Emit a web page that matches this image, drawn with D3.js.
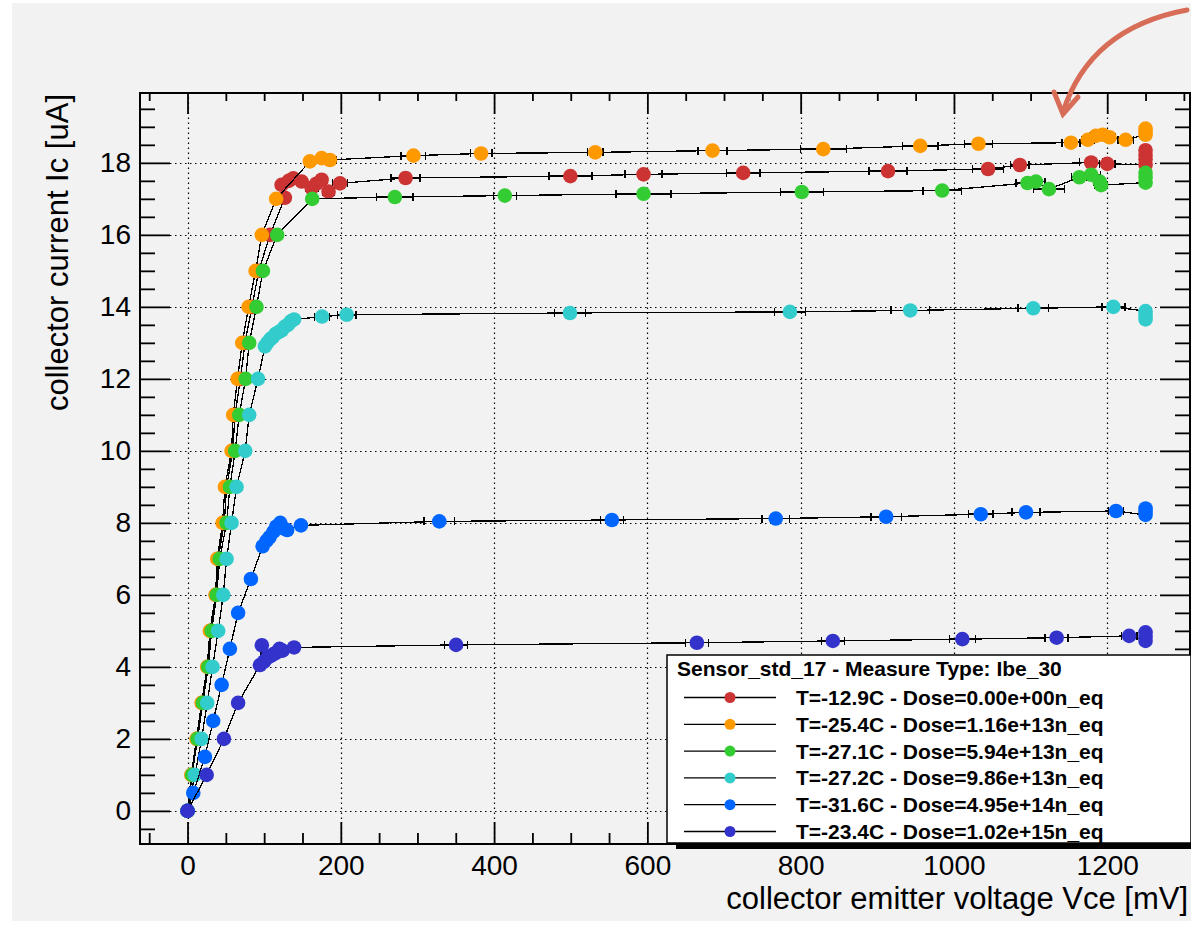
<!DOCTYPE html>
<html><head><meta charset="utf-8">
<script src="https://cdn.jsdelivr.net/npm/d3@7"></script>
<style>body{margin:0;background:#fff}svg{display:block}</style>
</head><body>
<svg id="chart" width="1191" height="933"></svg>
<script>
// ---------- data ----------
const xMajorTicks = [0,200,400,600,800,1000,1200];
const yMajorTicks = [0,2,4,6,8,10,12,14,16,18];
const xTitle = "collector emitter voltage Vce [mV]";
const yTitle = "collector current Ic [uA]";
const legendTitle = "Sensor_std_17 - Measure Type: Ibe_30";
const seriesLabels = [
  "T=-12.9C - Dose=0.00e+00n_eq",
  "T=-25.4C - Dose=1.16e+13n_eq",
  "T=-27.1C - Dose=5.94e+13n_eq",
  "T=-27.2C - Dose=9.86e+13n_eq",
  "T=-31.6C - Dose=4.95e+14n_eq",
  "T=-23.4C - Dose=1.02e+15n_eq"
];
const seriesColors = ["#cc3333","#ff9900","#33cc33","#33cccc","#0066ff","#3333cc"];

const redX  = [0,5.5,12.5,19,26.5,30,37,40,48,51,59,62,69,75,84,93,107.6,127,122.7,132,138,149,162,168,175,184,199,284.5,499.5,595,725,914,1044.5,1086,1179,1200,1250,1250,1250,1250];
const redY  = [0,1,2,3,4,5,6,7,8,9,10,11,12,13,14,15,16,17.03,17.39,17.5,17.57,17.48,17.3,17.42,17.53,17.2,17.43,17.58,17.63,17.68,17.72,17.77,17.83,17.94,18.01,17.97,17.95,18.1,18.22,18.35];
const redEx = [0,0,0,0,0,0,0,0,0,0,0,0,0,0,0,0,0,0,4,5,5,6,8,6,7,8,10,19,28,24,22,25,20,12,15,10,0,0,0,0];

const orangeX  = [0,5,11.8,18.4,25.7,29.2,36.6,38.8,45.8,48.8,57.5,59.6,65.3,71.4,79.7,88.8,97,115.6,159.7,175,185.8,294.8,383,532,685,829.5,956,1032,1152.7,1174.6,1185,1194,1203,1224,1250,1250,1250];
const orangeY  = [0,1,2,3,4,5,6,7,8,9,10,11,12,13,14,15,16,17,18.04,18.13,18.08,18.2,18.26,18.29,18.34,18.38,18.47,18.53,18.56,18.64,18.75,18.78,18.71,18.64,18.78,18.88,18.95];
const orangeEx = [0,0,0,0,0,0,0,0,0,0,0,0,0,0,0,0,0,0,5,6,8,16,14,10,19,30,23,18,12,8,8,8,8,10,0,0,0];

const greenX  = [0,6,13,20,27,31.5,38,42,51,55.3,62.2,67.5,75.8,80.5,90,98.4,117,162.7,270.5,414,595,801.5,984.7,1096,1107,1124,1163.7,1179,1190,1192,1250,1250,1250];
const greenY  = [0,1,2,3,4,5,6,7,8,9,10,11,12,13,14,15,16,17,17.05,17.09,17.14,17.19,17.23,17.44,17.48,17.27,17.6,17.67,17.48,17.38,17.45,17.6,17.72];
const greenEx = [0,0,0,0,0,0,0,0,0,0,0,0,0,0,0,0,0,0,24,15,36,28,25,15,12,20,10,12,8,8,0,0,0];

const cyanX  = [0,9.7,18.4,25.7,32.7,40,46.6,51,57.5,64,75.3,80.5,92,101,104,108,111,115,119,123,127,131,135,139,175.5,207.6,499,786,943,1103.5,1208,1250,1250,1250];
const cyanY  = [0,1,2,3,4,5,6,7,8,9,10,11,12,12.9,13.0,13.1,13.15,13.25,13.3,13.35,13.45,13.5,13.6,13.65,13.73,13.78,13.83,13.86,13.9,13.96,14.0,13.88,13.76,13.65];
const cyanEx = [0,0,0,0,0,0,0,0,0,0,0,0,0,3,3,3,3,3,3,3,3,3,3,3,10,12,20,20,25,20,15,0,0,0];

const blueX  = [0,7.5,22.7,33.5,44.5,55.3,66,82.7,98,103,107,112,116,121,125,130,148,328.5,553.7,767.5,911.5,1035,1094,1211.5,1250,1250,1250];
const blueY  = [0,0.5,1.5,2.5,3.5,4.5,5.5,6.44,7.35,7.5,7.6,7.75,7.9,8.0,7.85,7.8,7.93,8.04,8.08,8.12,8.17,8.24,8.29,8.33,8.22,8.31,8.4];
const blueEx = [0,0,0,0,0,0,0,0,3,3,3,3,3,3,3,3,5,20,15,18,20,16,18,10,0,0,0];

const navyX  = [0,25,47.5,66,94.5,97,100,104,108,112,116,120,124,139,350.4,664.6,842,1011,1134,1228.6,1250,1250,1250];
const navyY  = [0,1,2,3,4.05,4.6,4.15,4.25,4.3,4.35,4.4,4.5,4.45,4.54,4.61,4.67,4.72,4.77,4.81,4.86,4.72,4.84,4.96];
const navyEx = [0,0,0,0,3,3,3,3,3,3,3,3,3,5,15,15,15,17,15,10,0,0,0];

const seriesX  = [redX, orangeX, greenX, cyanX, blueX, navyX];
const seriesY  = [redY, orangeY, greenY, cyanY, blueY, navyY];
const seriesEx = [redEx, orangeEx, greenEx, cyanEx, blueEx, navyEx];

// ---------- layout ----------
const svg = d3.select("#chart");
const F = {l:140, t:93, r:1190, b:844};
const font = "'Liberation Sans', Arial, Helvetica, sans-serif";

svg.append("rect").attr("x",12).attr("y",3).attr("width",1179).attr("height",918).attr("fill","#f2f2f2");

const x = d3.scaleLinear().domain([-62,1308]).range([F.l,F.r]);
const y = d3.scaleLinear().domain([-0.92,19.94]).range([F.b,F.t]);

// grid
const grid = svg.append("g").attr("stroke","#000").attr("stroke-width",1.2).attr("stroke-dasharray","1.5,3.5");
grid.selectAll(".gx").data(xMajorTicks).join("line")
  .attr("x1",d=>Math.round(x(d))+0.5).attr("x2",d=>Math.round(x(d))+0.5).attr("y1",F.b).attr("y2",F.t);
grid.selectAll(".gy").data(yMajorTicks).join("line")
  .attr("y1",d=>Math.round(y(d))+0.5).attr("y2",d=>Math.round(y(d))+0.5).attr("x1",F.l).attr("x2",F.r);

// minor ticks values
const xMinor = d3.range(-50,1301,50).filter(v=>v%200!==0);
const yMinor = d3.range(-0.5,19.6,0.5).filter(v=>Math.abs(v%2)>1e-9);

function styleAxis(g){
  g.select(".domain").remove();
  g.selectAll(".tick line").attr("stroke","#000").attr("stroke-width",1.8);
  g.selectAll(".tick text").attr("font-family",font).attr("font-size",28).attr("fill","#000");
}
// bottom
svg.append("g").attr("transform",`translate(0,${F.b})`)
  .call(d3.axisBottom(x).tickValues(xMajorTicks).tickSizeInner(-22).tickSizeOuter(0).tickPadding(11).tickFormat(d3.format("d")))
  .call(styleAxis);
svg.append("g").attr("transform",`translate(0,${F.b})`)
  .call(d3.axisBottom(x).tickValues(xMinor).tickSizeInner(-11).tickSizeOuter(0).tickFormat(""))
  .call(styleAxis);
// top
svg.append("g").attr("transform",`translate(0,${F.t})`)
  .call(d3.axisTop(x).tickValues(xMajorTicks).tickSizeInner(-21).tickSizeOuter(0).tickFormat(""))
  .call(styleAxis);
svg.append("g").attr("transform",`translate(0,${F.t})`)
  .call(d3.axisTop(x).tickValues(xMinor).tickSizeInner(-8).tickSizeOuter(0).tickFormat(""))
  .call(styleAxis);
// left
svg.append("g").attr("transform",`translate(${F.l},0)`)
  .call(d3.axisLeft(y).tickValues(yMajorTicks).tickSizeInner(-30).tickSizeOuter(0).tickPadding(9).tickFormat(d3.format("d")))
  .call(styleAxis);
svg.append("g").attr("transform",`translate(${F.l},0)`)
  .call(d3.axisLeft(y).tickValues(yMinor).tickSizeInner(-15).tickSizeOuter(0).tickFormat(""))
  .call(styleAxis);
// right
svg.append("g").attr("transform",`translate(${F.r},0)`)
  .call(d3.axisRight(y).tickValues(yMajorTicks).tickSizeInner(-30).tickSizeOuter(0).tickFormat(""))
  .call(styleAxis);
svg.append("g").attr("transform",`translate(${F.r},0)`)
  .call(d3.axisRight(y).tickValues(yMinor).tickSizeInner(-15).tickSizeOuter(0).tickFormat(""))
  .call(styleAxis);

// frame
svg.append("rect").attr("x",F.l).attr("y",F.t).attr("width",F.r-F.l).attr("height",F.b-F.t)
  .attr("fill","none").attr("stroke","#000").attr("stroke-width",2);

// axis titles
svg.append("text").attr("x",1188).attr("y",909).attr("text-anchor","end")
  .attr("font-family",font).attr("font-size",31).text(xTitle);
svg.append("text").attr("transform",`translate(68,94) rotate(-90)`).attr("text-anchor","end")
  .attr("font-family",font).attr("font-size",31).text(yTitle);

// series
const line = d3.line().x(d=>x(d[0])).y(d=>y(d[1]));
seriesX.forEach((xs,i)=>{
  const pts = xs.map((v,j)=>[v, seriesY[i][j], seriesEx[i][j]]);
  const g = svg.append("g");
  g.append("path").attr("d",line(pts)).attr("fill","none").attr("stroke","#000")
    .attr("stroke-width",1.3).attr("shape-rendering","crispEdges");
  const eb = g.append("g").attr("stroke","#000").attr("stroke-width",1.5).attr("shape-rendering","crispEdges");
  pts.filter(p=>p[2]>0).forEach(p=>{
    const cy = y(p[1]), x0 = x(p[0]-p[2]), x1 = x(p[0]+p[2]);
    eb.append("line").attr("x1",x0).attr("x2",x1).attr("y1",cy).attr("y2",cy);
    eb.append("line").attr("x1",x0).attr("x2",x0).attr("y1",cy-4).attr("y2",cy+4);
    eb.append("line").attr("x1",x1).attr("x2",x1).attr("y1",cy-4).attr("y2",cy+4);
  });
  g.selectAll("circle").data(pts).join("circle")
    .attr("cx",d=>x(d[0])).attr("cy",d=>y(d[1])).attr("r",7.3).attr("fill",seriesColors[i]);
});

// legend
const L = {x:667, y:655, w:524, h:188};
svg.append("rect").attr("x",L.x+9).attr("y",L.y+6).attr("width",L.w).attr("height",L.h).attr("fill","#000");
svg.append("rect").attr("x",L.x).attr("y",L.y).attr("width",L.w).attr("height",L.h)
  .attr("fill","#fff").attr("stroke","#000").attr("stroke-width",1.5);
svg.append("text").attr("x",677).attr("y",676).attr("font-family",font).attr("font-weight","bold")
  .attr("font-size",21).text(legendTitle);
seriesLabels.forEach((lab,i)=>{
  const cy = 697.5 + i*26.8;
  svg.append("line").attr("x1",684).attr("x2",776).attr("y1",cy).attr("y2",cy).attr("stroke","#000").attr("stroke-width",1.3);
  svg.append("circle").attr("cx",730).attr("cy",cy).attr("r",5.5).attr("fill",seriesColors[i]);
  svg.append("text").attr("x",796).attr("y",cy+7.5).attr("font-family",font).attr("font-weight","bold")
    .attr("font-size",21).text(lab);
});

// annotation arrow
svg.append("path").attr("d","M1187,10 Q1090,28 1063,112").attr("fill","none")
  .attr("stroke","#d86d57").attr("stroke-width",5).attr("stroke-linecap","round");
svg.append("path").attr("d","M1054,92 L1063,114 L1078,97").attr("fill","none")
  .attr("stroke","#d86d57").attr("stroke-width",5).attr("stroke-linecap","round").attr("stroke-linejoin","miter");
</script>
</body></html>
